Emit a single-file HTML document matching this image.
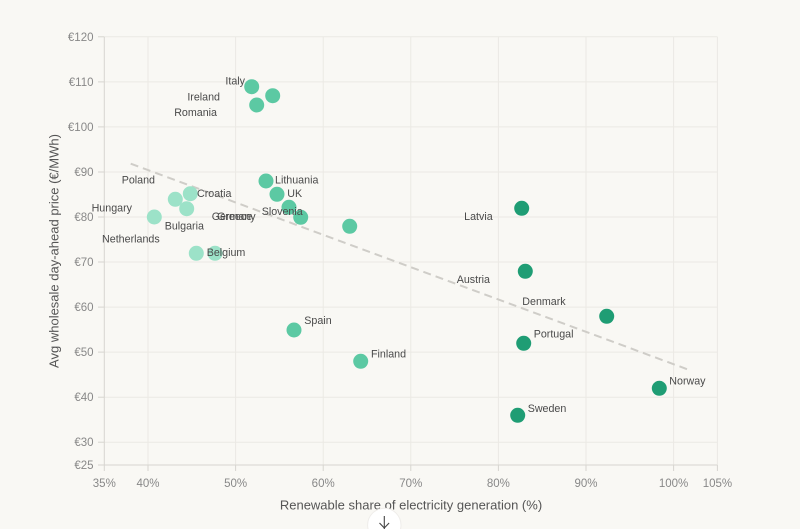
<!DOCTYPE html>
<html><head><meta charset="utf-8"><style>
html,body{margin:0;padding:0;background:#f9f8f4;}
svg{display:block;}
text{font-family:"Liberation Sans",sans-serif;}
</style></head><body>
<svg width="800" height="529" viewBox="0 0 800 529" xmlns="http://www.w3.org/2000/svg">
<rect width="800" height="529" fill="#f9f8f4"/>
<g stroke="#ebe9e4" stroke-width="1">
<line x1="104" y1="36.8" x2="717.4" y2="36.8"/>
<line x1="104" y1="81.9" x2="717.4" y2="81.9"/>
<line x1="104" y1="126.9" x2="717.4" y2="126.9"/>
<line x1="104" y1="172" x2="717.4" y2="172"/>
<line x1="104" y1="217" x2="717.4" y2="217"/>
<line x1="104" y1="262" x2="717.4" y2="262"/>
<line x1="104" y1="307.1" x2="717.4" y2="307.1"/>
<line x1="104" y1="352.1" x2="717.4" y2="352.1"/>
<line x1="104" y1="397.2" x2="717.4" y2="397.2"/>
<line x1="104" y1="442.2" x2="717.4" y2="442.2"/>
<line x1="148" y1="36.8" x2="148" y2="464.8"/>
<line x1="235.6" y1="36.8" x2="235.6" y2="464.8"/>
<line x1="323.2" y1="36.8" x2="323.2" y2="464.8"/>
<line x1="410.8" y1="36.8" x2="410.8" y2="464.8"/>
<line x1="498.4" y1="36.8" x2="498.4" y2="464.8"/>
<line x1="586" y1="36.8" x2="586" y2="464.8"/>
<line x1="673.6" y1="36.8" x2="673.6" y2="464.8"/>
<line x1="717.4" y1="36.8" x2="717.4" y2="464.8"/>
</g>
<g stroke="#d7d5d0" stroke-width="1">
<line x1="104.3" y1="36.8" x2="104.3" y2="465"/>
<line x1="104" y1="465" x2="717.4" y2="465"/>
<line x1="98" y1="36.8" x2="104" y2="36.8"/>
<line x1="98" y1="81.9" x2="104" y2="81.9"/>
<line x1="98" y1="126.9" x2="104" y2="126.9"/>
<line x1="98" y1="172" x2="104" y2="172"/>
<line x1="98" y1="217" x2="104" y2="217"/>
<line x1="98" y1="262" x2="104" y2="262"/>
<line x1="98" y1="307.1" x2="104" y2="307.1"/>
<line x1="98" y1="352.1" x2="104" y2="352.1"/>
<line x1="98" y1="397.2" x2="104" y2="397.2"/>
<line x1="98" y1="442.2" x2="104" y2="442.2"/>
<line x1="98" y1="465" x2="104" y2="465"/>
<line x1="104.3" y1="465" x2="104.3" y2="471"/>
<line x1="148" y1="465" x2="148" y2="471"/>
<line x1="235.6" y1="465" x2="235.6" y2="471"/>
<line x1="323.2" y1="465" x2="323.2" y2="471"/>
<line x1="410.8" y1="465" x2="410.8" y2="471"/>
<line x1="498.4" y1="465" x2="498.4" y2="471"/>
<line x1="586" y1="465" x2="586" y2="471"/>
<line x1="673.6" y1="465" x2="673.6" y2="471"/>
<line x1="717.4" y1="465" x2="717.4" y2="471"/>
</g>
<g font-size="11.5" fill="#888" text-anchor="end">
<text x="93.5" y="40.8">€120</text>
<text x="93.5" y="85.9">€110</text>
<text x="93.5" y="130.9">€100</text>
<text x="93.5" y="176">€90</text>
<text x="93.5" y="221">€80</text>
<text x="93.5" y="266">€70</text>
<text x="93.5" y="311.1">€60</text>
<text x="93.5" y="356.1">€50</text>
<text x="93.5" y="401.2">€40</text>
<text x="93.5" y="446.2">€30</text>
<text x="93.5" y="469">€25</text>
</g>
<g font-size="11.5" fill="#888" text-anchor="middle">
<text x="104.3" y="487">35%</text>
<text x="148" y="487">40%</text>
<text x="235.6" y="487">50%</text>
<text x="323.2" y="487">60%</text>
<text x="410.8" y="487">70%</text>
<text x="498.4" y="487">80%</text>
<text x="586" y="487">90%</text>
<text x="673.6" y="487">100%</text>
<text x="717.4" y="487">105%</text>
</g>
<text x="411" y="509.5" font-size="13" fill="#555" text-anchor="middle">Renewable share of electricity generation (%)</text>
<text transform="translate(58.5,251) rotate(-90)" font-size="13" fill="#555" text-anchor="middle">Avg wholesale day-ahead price (€/MWh)</text>
<line x1="130.7" y1="163.7" x2="689.3" y2="370" stroke="#cfcdc8" stroke-width="2" stroke-dasharray="8,5"/>
<g fill="#9ce2c8">
<circle cx="154.3" cy="217" r="7.5"/>
<circle cx="175.3" cy="199.3" r="7.5"/>
<circle cx="186.7" cy="208.7" r="7.5"/>
<circle cx="190.3" cy="193.7" r="7.5"/>
<circle cx="196.3" cy="253.3" r="7.5"/>
<circle cx="215" cy="253.3" r="7.5"/>
</g>
<g fill="#5cc9a3">
<circle cx="251.7" cy="86.7" r="7.5"/>
<circle cx="272.7" cy="95.7" r="7.5"/>
<circle cx="256.7" cy="105" r="7.5"/>
<circle cx="266" cy="181" r="7.5"/>
<circle cx="277" cy="194.3" r="7.5"/>
<circle cx="289" cy="207.3" r="7.5"/>
<circle cx="300.7" cy="217.3" r="7.5"/>
<circle cx="349.7" cy="226.3" r="7.5"/>
<circle cx="294" cy="330" r="7.5"/>
<circle cx="360.7" cy="361.3" r="7.5"/>
</g>
<g fill="#1f9d74">
<circle cx="521.7" cy="208.3" r="7.5"/>
<circle cx="525.3" cy="271.3" r="7.5"/>
<circle cx="606.7" cy="316.3" r="7.5"/>
<circle cx="523.7" cy="343.3" r="7.5"/>
<circle cx="659.3" cy="388.3" r="7.5"/>
<circle cx="517.7" cy="415.3" r="7.5"/>
</g>
<g font-size="10.7" fill="#4a4a4a">
<text x="245" y="84.5" text-anchor="end">Italy</text>
<text x="220" y="100.5" text-anchor="end">Ireland</text>
<text x="217" y="116" text-anchor="end">Romania</text>
<text x="275" y="183.5">Lithuania</text>
<text x="287.3" y="197">UK</text>
<text x="261.7" y="214.8">Slovenia</text>
<text x="197" y="196.8">Croatia</text>
<text x="155" y="183.5" text-anchor="end">Poland</text>
<text x="132" y="211.5" text-anchor="end">Hungary</text>
<text x="164.7" y="229.5">Bulgaria</text>
<text x="211.7" y="219.8">Germany</text>
<text x="217" y="219.8">Greece</text>
<text x="159.7" y="242.5" text-anchor="end">Netherlands</text>
<text x="206.7" y="255.8">Belgium</text>
<text x="304.3" y="323.8">Spain</text>
<text x="371" y="357.5">Finland</text>
<text x="492.7" y="219.8" text-anchor="end">Latvia</text>
<text x="490" y="282.8" text-anchor="end">Austria</text>
<text x="522.3" y="304.8">Denmark</text>
<text x="533.7" y="337.5">Portugal</text>
<text x="669.3" y="384.5">Norway</text>
<text x="527.7" y="412">Sweden</text>
</g>
<circle cx="384.3" cy="525" r="16.7" fill="#ffffff" stroke="#efedea" stroke-width="1"/>
<g stroke="#444" stroke-width="1.1" fill="none">
<line x1="384.3" y1="516" x2="384.3" y2="529"/>
<polyline points="379.5,523 384.3,528 389.1,523"/>
</g>
</svg>
</body></html>
